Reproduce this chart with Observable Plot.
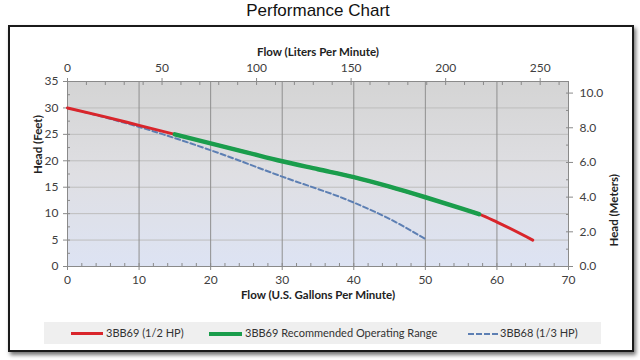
<!DOCTYPE html>
<html><head><meta charset="utf-8">
<script src="https://cdn.jsdelivr.net/npm/d3@7"></script>
<script src="https://cdn.jsdelivr.net/npm/@observablehq/plot@0.6"></script>
<style>
body{margin:0;width:640px;height:360px;position:relative;background:#fff;overflow:hidden;font-family:Lato,sans-serif}
#title{position:absolute;left:0;top:0;width:636px;text-align:center;font:17px "Liberation Sans",Arial,sans-serif;line-height:22px;color:#111}
#frame{position:absolute;left:8px;top:25px;width:622px;height:323px;border:2px solid #1a1a1a;box-shadow:2px 3px 4px rgba(0,0,0,.55)}
#chart{position:absolute;left:0;top:26px}
#legend{position:absolute;left:44px;top:322px;width:557px;height:22px;background:#efefef}
.item{position:absolute;top:0;height:22px;line-height:22px;font-size:11px;color:#333;white-space:nowrap}
.sw{position:absolute;top:11px;height:0}
</style></head>
<body>
<div id="title">Performance Chart</div>
<div id="frame"></div>
<div id="chart"></div>
<div id="legend"></div>
<script>
// ---- data ----
const flow3BB69 = [0, 5, 10, 15, 20, 25, 30, 35, 40, 45, 50, 55, 57.5, 60, 65];      // gpm
const head3BB69 = [30, 28.4, 26.7, 25.0, 23.3, 21.6, 19.9, 18.4, 16.9, 15.1, 13.1, 11.0, 9.9, 8.4, 5.0]; // ft
const rangeStart = 15, rangeEnd = 57.5; // recommended operating range (gpm)
const flow3BB68 = [0, 10, 20, 30, 40, 45, 50];
const head3BB68 = [30, 26.4, 22.0, 17.0, 12.1, 9.0, 5.2];
const xTicks = [0, 10, 20, 30, 40, 50, 60, 70];
const yTicks = [0, 5, 10, 15, 20, 25, 30, 35];
const literTicks = [0, 50, 100, 150, 200, 250];
const meterTicks = [0, 2, 4, 6, 8, 10];
const seriesNames = ["3BB69 (1/2 HP)", "3BB69 Recommended Operating Range", "3BB68 (1/3 HP)"];
const seriesColors = ["#d9252b", "#1a9d4c", "#5d7fb3"];

const LPG = 3.78541, FPM = 3.28084;
const rows69 = flow3BB69.map((f, i) => ({flow: f, head: head3BB69[i]}));
const rowsRange = rows69.filter(d => d.flow >= rangeStart && d.flow <= rangeEnd);
const rows68 = flow3BB68.map((f, i) => ({flow: f, head: head3BB68[i]}));

const axisCol = "#8a8a8a", textCol = "#404040";
const plot = Plot.plot({
  width: 640, height: 280,
  marginLeft: 67, marginRight: 72, marginTop: 55, marginBottom: 40,
  style: {fontFamily: "Lato, sans-serif", fontSize: "12px", color: textCol, background: "transparent"},
  x: {domain: [0, 70]},
  y: {domain: [0, 35]},
  marks: [
    Plot.frame({fill: "url(#plotbg)", stroke: null}),
    Plot.gridY(yTicks, {stroke: "#bdbdbd", strokeOpacity: 1}),
    Plot.gridX(xTicks, {stroke: "#8f8f8f", strokeOpacity: 1}),
    Plot.frame({stroke: axisCol}),
    Plot.axisX(xTicks, {anchor: "bottom", tickSize: 4, tickPadding: 5, stroke: axisCol, fill: textCol, label: null}),
    Plot.axisX(d3.range(0, 71, 2), {anchor: "bottom", tickSize: -3, tickFormat: () => "", stroke: axisCol, label: null}),
    Plot.axisX(literTicks.map(l => l / LPG), {anchor: "top", tickSize: 4, tickPadding: 6, tickFormat: d => Math.round(d * LPG), stroke: axisCol, fill: textCol, label: null}),
    Plot.axisX(d3.range(0, 261, 10).map(l => l / LPG), {anchor: "top", tickSize: -3, tickFormat: () => "", stroke: axisCol, label: null}),
    Plot.axisY(yTicks, {anchor: "left", tickSize: 4, tickPadding: 5, stroke: axisCol, fill: textCol, label: null}),
    Plot.axisY(d3.range(0, 35.1, 2.5), {anchor: "left", tickSize: -3, tickFormat: () => "", stroke: axisCol, label: null}),
    Plot.axisY(meterTicks.map(m => m * FPM), {anchor: "right", tickSize: 4, tickPadding: 7, tickFormat: d => (d / FPM).toFixed(1), stroke: axisCol, fill: textCol, label: null}),
    Plot.axisY(d3.range(0, 10.1, 1).map(m => m * FPM), {anchor: "right", tickSize: -3, tickFormat: () => "", stroke: axisCol, label: null}),
    Plot.line(rows68, {x: "flow", y: "head", stroke: seriesColors[2], strokeWidth: 2, strokeDasharray: "5,3", curve: "monotone-x"}),
    Plot.line(rows69, {x: "flow", y: "head", stroke: seriesColors[0], strokeWidth: 3, curve: "monotone-x"}),
    Plot.line(rowsRange, {x: "flow", y: "head", stroke: seriesColors[1], strokeWidth: 4.5, curve: "monotone-x"}),
    Plot.text(["Flow (Liters Per Minute)"], {frameAnchor: "top", dy: -34, fontWeight: "bold", fontSize: 11.5, fill: "#222"}),
    Plot.text(["Flow (U.S. Gallons Per Minute)"], {frameAnchor: "bottom", dy: 32, fontWeight: "bold", fontSize: 11.5, fill: "#222"}),
    Plot.text(["Head (Feet)"], {frameAnchor: "left", dx: -29, rotate: -90, fontWeight: "bold", fontSize: 11.5, fill: "#222"}),
    Plot.text(["Head (Meters)"], {frameAnchor: "right", dx: 46, rotate: -90, fontWeight: "bold", fontSize: 11.5, fill: "#222"})
  ]
});
const defs = d3.select(plot).insert("defs", ":first-child");
const g = defs.append("linearGradient").attr("id", "plotbg").attr("x1", 0).attr("y1", 0).attr("x2", 0).attr("y2", 1);
g.append("stop").attr("offset", "0%").attr("stop-color", "#d4d4d4");
g.append("stop").attr("offset", "50%").attr("stop-color", "#dfdfe3");
g.append("stop").attr("offset", "100%").attr("stop-color", "#dde3f3");
document.getElementById("chart").appendChild(plot);

// legend
const leg = d3.select("#legend");
const swatches = [
  {sw: 27, w: 32, tx: 62, border: "3px solid " + seriesColors[0]},
  {sw: 165, w: 33, tx: 201, border: "4px solid " + seriesColors[1]},
  {sw: 424, w: 30, tx: 456, border: "2px dashed " + seriesColors[2]}
];
swatches.forEach((s, i) => {
  leg.append("div").attr("class", "sw").style("left", s.sw + "px").style("width", s.w + "px")
    .style("border-top", s.border).style("margin-top", i === 2 ? "0px" : "-1px");
  leg.append("div").attr("class", "item").style("left", s.tx + "px").text(seriesNames[i]);
});
</script>
</body></html>
